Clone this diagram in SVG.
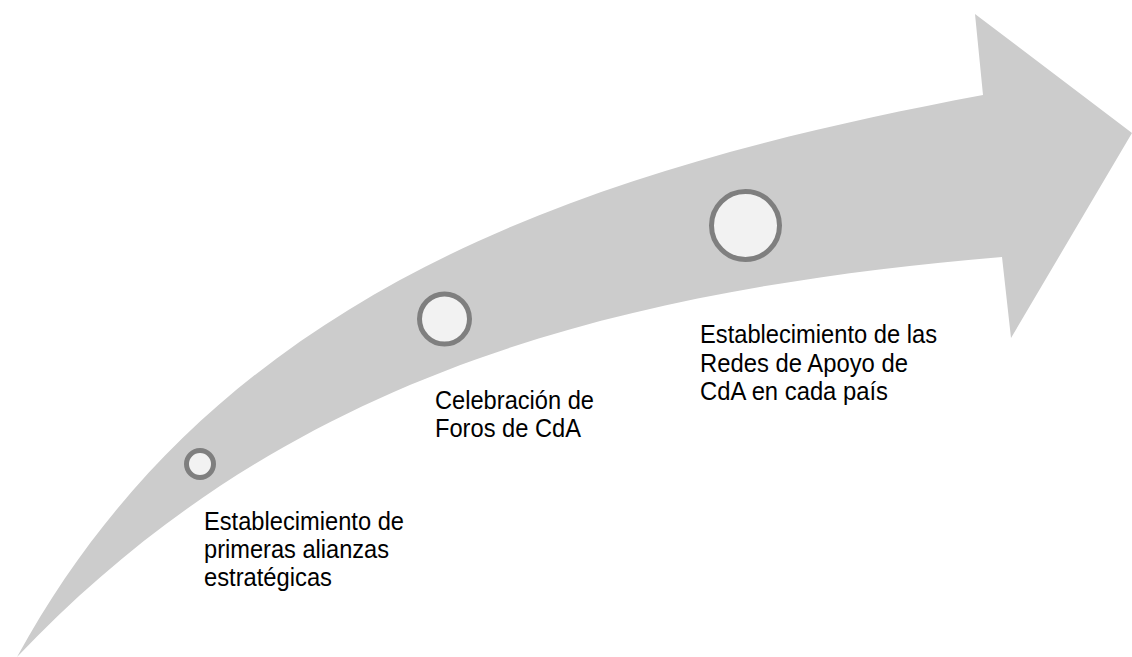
<svg xmlns="http://www.w3.org/2000/svg" width="1132" height="657" viewBox="0 0 1132 657">
<style>
.arrow{fill:#cccccc;stroke:none}
.dot{fill:#f2f2f2;stroke:#7f7f7f;stroke-width:5}
.lbl{font-family:"Liberation Sans",Arial,sans-serif;font-size:26px;fill:#000000}
</style>
<rect width="1132" height="657" fill="#ffffff"/>
<g id="arrow">
<path class="arrow" d="M17,657 C217,291 583,170 983,95 L975,14 L1132,133 L1011,338 L1002,257 C602,291 280,380 17,657 Z"/>
</g>
<g id="connectors"></g>
<g id="node1">
<circle class="dot" cx="200" cy="464" r="13.5"/>
<text class="lbl"><tspan x="204" y="530" textLength="200" lengthAdjust="spacingAndGlyphs">Establecimiento de</tspan></text>
<text class="lbl"><tspan x="204" y="558" textLength="185" lengthAdjust="spacingAndGlyphs">primeras alianzas</tspan></text>
<text class="lbl"><tspan x="204" y="586" textLength="128" lengthAdjust="spacingAndGlyphs">estratégicas</tspan></text>
</g>
<g id="node2">
<circle class="dot" cx="444.5" cy="319" r="25"/>
<text class="lbl"><tspan x="435" y="409" textLength="159" lengthAdjust="spacingAndGlyphs">Celebración de</tspan></text>
<text class="lbl"><tspan x="435" y="437" textLength="146" lengthAdjust="spacingAndGlyphs">Foros de CdA</tspan></text>
</g>
<g id="node3">
<circle class="dot" cx="745.5" cy="225.5" r="34"/>
<text class="lbl"><tspan x="700" y="343" textLength="237" lengthAdjust="spacingAndGlyphs">Establecimiento de las</tspan></text>
<text class="lbl"><tspan x="700" y="372" textLength="208" lengthAdjust="spacingAndGlyphs">Redes de Apoyo de</tspan></text>
<text class="lbl"><tspan x="700" y="400" textLength="188" lengthAdjust="spacingAndGlyphs">CdA en cada país</tspan></text>
</g>
</svg>
